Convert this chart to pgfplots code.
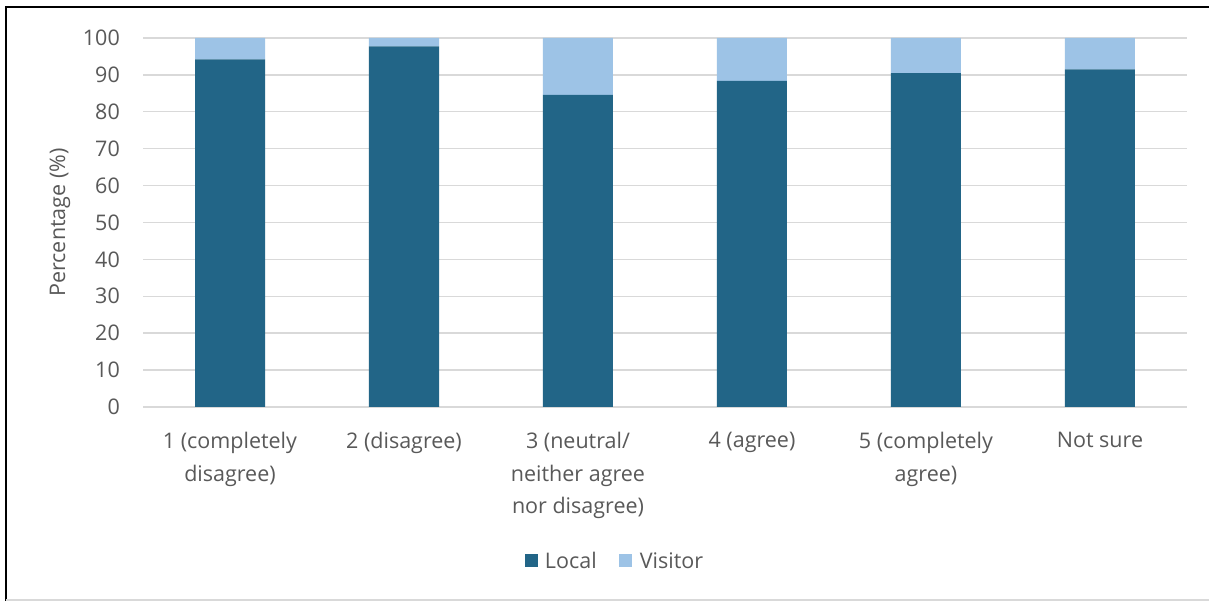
\documentclass[border=0pt]{standalone}
\usepackage{pgfplots}
\pgfplotsset{compat=1.18}
\usepackage{pgfplotstable}
\usepackage{fontspec}
\setmainfont{Open Sans}
\definecolor{localc}{HTML}{226587}
\definecolor{visitc}{HTML}{9DC3E6}
\definecolor{gridc}{HTML}{D9D9D9}
\definecolor{textc}{HTML}{595959}
\pgfplotstableread{
x local visitor
0 94.2 5.8
1 97.7 2.3
2 84.6 15.4
3 88.4 11.6
4 90.45 9.55
5 91.5 8.5
}\data
\begin{document}
\begin{tikzpicture}[x=1pt,y=1pt]
\path[use as bounding box] (0,0) rectangle (1209,601);
\fill[white] (0,0) rectangle (1209,601);
\draw[black, line width=2pt] (6,0) -- (6,594) -- (1209,594);
\draw[gridc, line width=2pt] (6,1) -- (1209,1);
\begin{axis}[
  at={(143pt,194pt)}, anchor=south west,
  scale only axis, width=1044pt, height=369pt,
  ybar stacked, bar width=70pt,
  xmin=-0.5, xmax=5.5, ymin=0, ymax=100,
  ytick={0,10,...,100},
  xtick=data,
  xticklabels={{1 (completely\\disagree)},{2 (disagree)},{3 (neutral/\\neither agree\\nor disagree)},{4 (agree)},{5 (completely\\agree)},{Not sure}},
  axis line style={draw=none},
  major tick length=0pt,
  ymajorgrids, major grid style={gridc, line width=1.4pt},
  font=\fontsize{21.5}{32.5}\selectfont,
  /pgf/number format/assume math mode=true,
  tick label style={text=textc},
  yticklabel style={anchor=east, inner sep=0pt, xshift=-23pt},
  xticklabel style={align=center, anchor=north, inner sep=0pt, yshift=-25pt},
  ylabel={Percentage (\%)},
  ylabel style={at={(axis description cs:-0.0795,0.5)}, anchor=center, text=textc},
  legend columns=2,
  legend style={at={(axis description cs:0.451,-0.417)}, anchor=center, draw=none, fill=none, inner sep=0pt, text=textc,
    nodes={inner sep=0pt, anchor=west},
    /tikz/every odd column/.append style={column sep=7.4pt},
    /tikz/every even column/.append style={column sep=22.7pt}},
  legend image code/.code={\draw[#1, draw=none] (0pt,-6.5pt) rectangle (13pt,6.5pt);},
]
\addplot[fill=localc, draw=none] table[x=x, y=local] {\data};
\addplot[fill=visitc, draw=none] table[x=x, y=visitor] {\data};
\legend{Local, Visitor}
\end{axis}
\end{tikzpicture}
\end{document}
